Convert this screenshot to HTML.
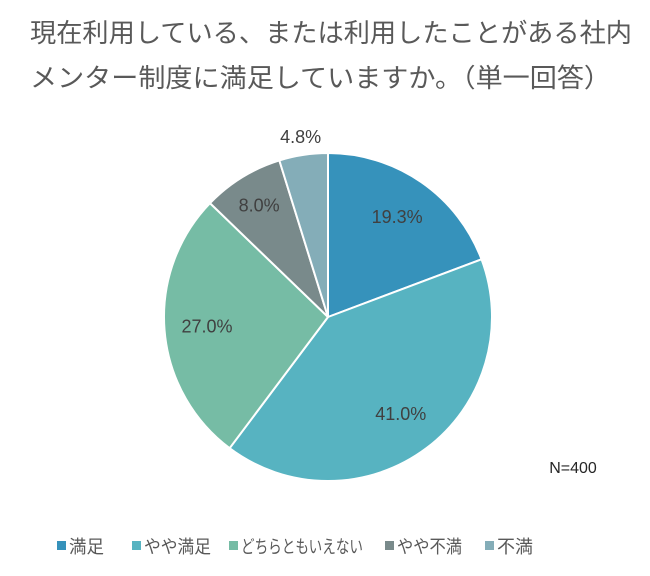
<!DOCTYPE html>
<html><head><meta charset="utf-8"><style>
body{margin:0;background:#fff;font-family:"Liberation Sans","Noto Sans CJK JP",sans-serif}
</style></head><body>
<svg width="650" height="571" xmlns="http://www.w3.org/2000/svg" id="c">
<text x="30" y="42" font-size="26" fill="#595959" textLength="602" lengthAdjust="spacingAndGlyphs">現在利用している、または利用したことがある社内</text>
<text x="30" y="87" font-size="26" fill="#595959" textLength="581" lengthAdjust="spacingAndGlyphs">メンター制度に満足していますか。（単一回答）</text>
<text x="573" y="473" font-size="16" fill="#262626" text-anchor="middle">N=400</text>
<g id="slices"></g><g id="labels"></g><g id="legend"></g>
</svg>
<script>
const categories=["満足","やや満足","どちらともいえない","やや不満","不満"];
const values=[19.3,41.0,27.0,8.0,4.8];
const valueLabels=["19.3%","41.0%","27.0%","8.0%","4.8%"];
const colors=["#3692bb","#57b3c1","#76bca5","#798a8b","#84adb8"];
const NS="http://www.w3.org/2000/svg";
const cx=328,cy=317,r=164;
const total=values.reduce((a,b)=>a+b,0);
const sl=document.getElementById('slices'),lb=document.getElementById('labels'),lg=document.getElementById('legend');
function pt(a,rr){return [cx+rr*Math.sin(a),cy-rr*Math.cos(a)];}
let a0=0;
values.forEach((v,i)=>{
 const a1=a0+v/total*2*Math.PI;
 const p0=pt(a0,r),p1=pt(a1,r);
 const p=document.createElementNS(NS,'path');
 p.setAttribute('d',`M${cx},${cy}L${p0[0]},${p0[1]}A${r},${r} 0 ${a1-a0>Math.PI?1:0} 1 ${p1[0]},${p1[1]}Z`);
 p.setAttribute('fill',colors[i]);p.setAttribute('stroke','#fff');p.setAttribute('stroke-width','2');
 
 
 sl.appendChild(p);
 const m=(a0+a1)/2;
 const lr=v<6?r+18:(v<10?r*0.8:r*0.74);
 const q=pt(m,lr);
 const t=document.createElementNS(NS,'text');
 t.setAttribute('x',q[0]);t.setAttribute('y',q[1]+6);t.setAttribute('text-anchor','middle');
 t.setAttribute('font-size','18');t.setAttribute('fill','#404040');
 t.textContent=valueLabels[i];
 
 
 lb.appendChild(t);
 a0=a1;
});
const lx=[57,132,229,385,485];
const lw=[35,67,122,65,36];
categories.forEach((c,i)=>{
 const g=document.createElementNS(NS,'g');
 
 
 const s=document.createElementNS(NS,'rect');
 s.setAttribute('x',lx[i]);s.setAttribute('y',541);s.setAttribute('width',9);s.setAttribute('height',9);s.setAttribute('fill',colors[i]);
 const t=document.createElementNS(NS,'text');
 t.setAttribute('x',lx[i]+12);t.setAttribute('y',553);t.setAttribute('font-size','18');t.setAttribute('fill','#595959');
 t.setAttribute('textLength',lw[i]);t.setAttribute('lengthAdjust','spacingAndGlyphs');
 t.textContent=c;
 g.appendChild(s);g.appendChild(t);lg.appendChild(g);
});
</script>
</body></html>
